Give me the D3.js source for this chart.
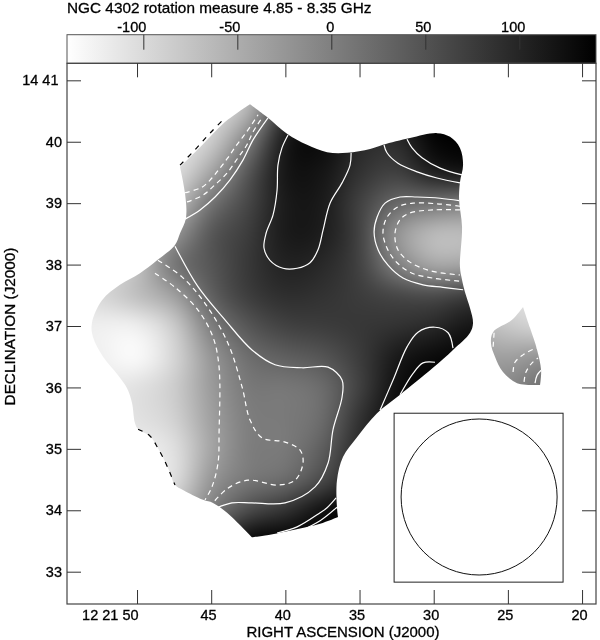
<!DOCTYPE html>
<html lang="en">
<head>
<meta charset="UTF-8"/>
<title>NGC 4302 rotation measure</title>
<script src="https://d3js.org/d3.v7.min.js"></script>
<style>
  body { margin: 0; background: #fff; }
  #wrap { position: relative; width: 600px; height: 640px; overflow: hidden; }
  canvas, svg { position: absolute; left: 0; top: 0; }
  text { font-family: "Liberation Sans", sans-serif; fill: #000; stroke: #000; stroke-width: 0.3px; }
</style>
</head>
<body>
<div id="wrap">
  <canvas id="map" width="600" height="640"></canvas>
  <svg id="chart" width="600" height="640"></svg>
</div>
<script>
// tick values and labels
const raTicks = [50, 45, 40, 35, 30, 25, 20];
const raLabels = ["12 21 50", "45", "40", "35", "30", "25", "20"];
const decTicks = [41, 40, 39, 38, 37, 36, 35, 34, 33];
const decLabels = ["14 41", "40", "39", "38", "37", "36", "35", "34", "33"];
const rmTicks = [-100, -50, 0, 50, 100];
const rmRange = [-140.6, 140.8];

const gridRa = [55, 52.5, 50, 47.5, 45, 42.5, 40, 37.5, 35, 32.5, 30, 27.5, 25, 22.5];
const gridDec = [41, 40.5, 40, 39.5, 39, 38.5, 38, 37.5, 37, 36.5, 36, 35.5, 35, 34.5, 34, 33.5, 33];
const gridRm = [
  [-113,-118,-124,-130,-118,-80,41,108,97,108,135,141,141,141],
  [-113,-118,-124,-124,-107,-58,86,124,108,113,141,141,141,141],
  [-118,-124,-130,-118,-85,3,117,130,97,91,135,141,141,141],
  [-118,-124,-124,-107,-41,47,119,119,86,69,108,119,119,119],
  [-113,-118,-107,-74,14,64,113,113,69,25,14,3,3,3],
  [-107,-107,-80,-25,47,75,113,110,69,-25,-69,-69,-69,-69],
  [-107,-107,-74,14,47,80,104,97,69,-2,-47,-41,-41,-41],
  [-113,-96,-69,-36,36,75,91,86,75,64,58,75,75,75],
  [-118,-124,-124,-85,3,47,69,75,80,86,97,119,119,119],
  [-118,-124,-137,-96,-25,20,36,47,75,113,130,135,135,135],
  [-113,-115,-107,-85,-30,8,8,20,69,124,141,141,141,141],
  [-113,-115,-107,-91,-36,3,6,20,86,130,141,141,141,141],
  [-113,-118,-122,-107,-41,3,6,36,97,124,141,141,141,141],
  [-113,-115,-118,-107,-25,8,20,58,108,130,141,141,141,141],
  [-107,-107,-107,-69,3,58,86,124,141,141,141,141,141,141],
  [-80,-80,-80,-25,64,135,141,141,141,141,141,141,141,141],
  [-47,-47,-47,30,108,141,141,141,141,141,141,141,141,141]
];
const lobeRa = [27.5, 25, 22.5];
const lobeDec = [37.5, 37, 36.5, 36, 35.5];
const lobeRm = [
  [-91,-107,-107],
  [-58,-80,-96],
  [-30,-36,-19],
  [-19,-8,20],
  [-14,3,30]
];

// edge of the mapped area [RA s, Dec arcmin]
const mainEdge = [[42.38,40.61],[42.38,40.61],[41.17,40.39],[39.89,40.13],[38.54,39.95],[37.19,39.83],[35.84,39.82],[34.29,39.88],[33.42,39.95],[31.60,40.06],[29.78,40.14],[28.90,40.08],[28.23,39.90],[28.02,39.62],[28.23,39.34],[28.29,39.05],[28.09,38.61],[28.23,37.96],[28.09,37.75],[27.89,37.55],[27.55,37.29],[27.35,37.05],[27.55,36.89],[28.70,36.61],[30.05,36.32],[32.27,35.88],[33.82,35.58],[35.17,35.19],[36.11,34.87],[36.52,34.49],[36.52,34.05],[36.45,33.89],[36.45,33.89],[37.66,33.78],[39.48,33.68],[41.57,33.58],[42.25,33.56],[42.25,33.56],[43.06,33.76],[43.93,33.96],[44.88,34.12],[45.55,34.17],[46.90,34.33],[47.44,34.41],[47.78,34.61],[48.11,34.79],[48.59,35.01],[49.13,35.21],[49.93,35.32],[50.14,35.42],[50.34,35.75],[50.68,35.99],[51.28,36.20],[52.29,36.50],[52.97,36.82],[53.04,37.05],[52.36,37.42],[51.15,37.67],[49.80,37.86],[48.65,38.07],[47.44,38.32],[47.10,38.51],[46.70,38.76],[46.77,39.17],[47.10,39.59],[47.10,39.59],[45.75,39.91],[44.07,40.32]];
const lobeEdge = [[23.98,37.31],[23.98,37.31],[24.72,37.10],[26.00,36.90],[26.14,36.72],[25.87,36.50],[25.33,36.25],[24.38,36.07],[22.83,36.04],[22.83,36.04],[22.76,36.28],[23.03,36.61],[23.51,36.97]];

// contours
const blackDashed = [
  [[47.10,39.62],[46.09,39.87],[45.08,40.14],[44.07,40.39]],
  [[49.93,35.32],[49.13,35.21],[48.59,35.01],[48.11,34.79],[47.78,34.61],[47.44,34.41]]
];
const whiteDashed = [
  [[46.77,39.17],[45.62,39.26],[44.95,39.41],[44.41,39.57],[43.87,39.74],[43.39,39.91],[42.86,40.08],[42.38,40.24],[41.84,40.44]],
  [[46.63,39.02],[45.55,39.13],[44.74,39.30],[43.93,39.49],[43.19,39.74],[42.59,39.95],[42.18,40.16],[41.57,40.39]],
  [[28.23,38.95],[29.78,38.99],[31.39,39.00],[32.41,38.94],[33.15,38.77],[33.42,38.53],[33.15,38.27],[32.47,38.03],[31.46,37.86],[30.05,37.78],[28.23,37.73]],
  [[28.23,38.89],[30.05,38.89],[31.60,38.84],[32.27,38.73],[32.61,38.51],[32.41,38.24],[31.60,38.04],[30.25,37.90],[28.23,37.83]],
  [[48.59,38.07],[46.97,37.80],[45.42,37.37],[43.87,36.72],[42.92,36.01],[42.38,35.47],[41.57,35.18],[40.02,35.11],[39.01,34.98],[38.81,34.77],[39.35,34.49],[40.50,34.41],[42.52,34.49],[43.87,34.36],[44.88,34.12]],
  [[48.79,37.86],[47.44,37.63],[45.89,37.26],[44.88,36.82],[44.47,36.33],[44.47,35.26],[44.54,34.77],[44.95,34.38],[45.42,34.17]],
  [[25.93,36.89],[26.00,36.64]],
  [[24.65,36.25],[24.52,36.41],[23.98,36.53],[23.30,36.62],[23.03,36.64]],
  [[23.91,36.09],[23.78,36.25],[23.37,36.40],[22.97,36.48]]
];
const whiteSolid = [
  [[46.77,38.74],[45.75,38.89],[44.74,39.10],[43.73,39.38],[42.86,39.70],[42.18,40.03],[41.17,40.39]],
  [[39.82,40.11],[40.23,39.90],[40.50,39.62],[40.56,39.21],[40.83,38.81],[41.30,38.51],[41.44,38.27],[41.04,38.07],[40.16,37.94],[39.21,37.94],[38.34,38.03],[37.80,38.24],[37.46,38.56],[36.99,39.00],[36.18,39.33],[35.64,39.62],[35.57,39.82]],
  [[33.35,39.95],[33.15,39.82],[32.41,39.65],[31.12,39.51],[29.78,39.41],[28.23,39.33]],
  [[31.80,40.04],[31.46,39.90],[30.79,39.74],[29.57,39.57],[28.09,39.46]],
  [[28.29,39.04],[29.57,39.08],[31.12,39.10],[32.27,39.10],[33.28,39.00],[33.82,38.77],[34.02,38.53],[33.75,38.24],[33.08,37.99],[32.07,37.78],[30.72,37.67],[29.37,37.63],[28.02,37.59]],
  [[47.44,38.30],[45.89,37.64],[44.07,37.10],[42.25,36.61],[40.70,36.37],[38.88,36.32],[37.12,36.33],[36.18,36.12],[36.18,35.84],[36.79,35.31],[37.12,34.77],[38.00,34.38],[40.02,34.12],[42.25,34.12],[43.60,34.12],[44.61,34.04]],
  [[33.62,35.63],[32.74,36.12],[31.80,36.66],[31.06,36.90],[29.91,36.98],[29.03,36.89],[28.70,36.64]],
  [[32.27,35.88],[31.39,36.23],[30.72,36.40],[29.91,36.41]],
  [[40.56,33.63],[39.21,33.73],[37.66,33.96],[37.19,34.04],[36.58,34.20]],
  [[39.01,33.66],[37.66,33.83],[36.52,34.05]],
  [[23.17,36.07],[23.03,36.20],[22.76,36.28]]
];

// beam panel
const beamBox = [32.67, 21.28, 35.58, 32.83];
const beamCentre = [26.94, 34.216];
const beamRadius = 1.27;

const frame = {left: 67, right: 596, top: 63.3, bottom: 604};
const barTop = 34.7;

const x = d3.scaleLinear().domain([54.72, 19.06]).range([frame.left, frame.right]);
const y = d3.scaleLinear().domain([41.277, 32.474]).range([frame.top, frame.bottom]);
const rmX = d3.scaleLinear().domain(rmRange).range([frame.left, frame.right]);
const grey = d3.scaleLinear().domain(rmRange).range(["#ffffff", "#000000"]).clamp(true);

const svg = d3.select("#chart");
const ctx = document.getElementById("map").getContext("2d");

function drawRaster(ras, decs, values, edge) {
  const small = document.createElement("canvas");
  small.width = ras.length;
  small.height = decs.length;
  const sctx = small.getContext("2d");
  values.forEach((row, j) => row.forEach((v, i) => {
    sctx.fillStyle = grey(v);
    sctx.fillRect(i, j, 1, 1);
  }));
  const dx = x(ras[1]) - x(ras[0]);
  const dy = y(decs[1]) - y(decs[0]);
  ctx.save();
  const outline = d3.line().x(d => x(d[0])).y(d => y(d[1])).curve(d3.curveCatmullRomClosed.alpha(0.5));
  ctx.clip(new Path2D(outline(edge)));
  ctx.imageSmoothingEnabled = true;
  ctx.imageSmoothingQuality = "high";
  ctx.drawImage(small, x(ras[0]) - dx / 2, y(decs[0]) - dy / 2, dx * ras.length, dy * decs.length);
  ctx.restore();
}
drawRaster(gridRa, gridDec, gridRm, mainEdge);
drawRaster(lobeRa, lobeDec, lobeRm, lobeEdge);

// contours
const contour = d3.line().x(d => x(d[0])).y(d => y(d[1])).curve(d3.curveCatmullRom.alpha(0.5));
const addLines = (lines, colour, dash, w) => svg.append("g")
  .selectAll("path").data(lines).join("path")
  .attr("d", contour)
  .attr("fill", "none")
  .attr("stroke", colour)
  .attr("stroke-width", w)
  .attr("stroke-dasharray", dash);
addLines(whiteSolid, "#fff", null, 1.2);
addLines(whiteDashed, "#fff", "5,4", 1.2);
addLines(blackDashed, "#000", "5,6", 1.2);

// beam
svg.append("rect")
  .attr("x", x(beamBox[0])).attr("y", y(beamBox[2]))
  .attr("width", x(beamBox[1]) - x(beamBox[0]))
  .attr("height", y(beamBox[3]) - y(beamBox[2]))
  .attr("fill", "#fff").attr("stroke", "#222").attr("stroke-width", 1);
svg.append("ellipse")
  .attr("cx", x(beamCentre[0])).attr("cy", y(beamCentre[1]))
  .attr("rx", y(beamCentre[1] - beamRadius) - y(beamCentre[1]))
  .attr("ry", y(beamCentre[1] - beamRadius) - y(beamCentre[1]))
  .attr("fill", "none").attr("stroke", "#111").attr("stroke-width", 1);

// colour bar
const grad = svg.append("defs").append("linearGradient").attr("id", "bar");
grad.append("stop").attr("offset", 0).attr("stop-color", grey(rmRange[0]));
grad.append("stop").attr("offset", 1).attr("stop-color", grey(rmRange[1]));
svg.append("rect")
  .attr("x", frame.left).attr("y", barTop)
  .attr("width", frame.right - frame.left).attr("height", frame.top - barTop)
  .attr("fill", "url(#bar)").attr("stroke", "#555").attr("stroke-width", 1);

// axes
function styleAxis(g) {
  g.select(".domain").remove();
  g.selectAll("line").attr("stroke", "#333").attr("stroke-width", 1);
  g.selectAll("text").attr("font-size", 14.5).attr("fill", "#000")
    .attr("font-family", '"Liberation Sans", sans-serif');
}
svg.append("g").attr("transform", `translate(0,${barTop})`)
  .call(d3.axisTop(rmX).tickValues(rmTicks).tickSize(-15).tickSizeOuter(0).tickPadding(3)
    .tickFormat(d => String(d)))
  .call(styleAxis)
  .selectAll("text").attr("text-anchor", "end").attr("dx", d => d <= 0 ? 2.5 : 5.5);

svg.append("rect")
  .attr("x", frame.left).attr("y", frame.top)
  .attr("width", frame.right - frame.left).attr("height", frame.bottom - frame.top)
  .attr("fill", "none").attr("stroke", "#444").attr("stroke-width", 1.2);

svg.append("g").attr("transform", `translate(0,${frame.top})`)
  .call(d3.axisTop(x).tickValues(raTicks).tickSize(-14).tickSizeOuter(0).tickFormat(""))
  .call(styleAxis);
svg.append("g").attr("transform", `translate(0,${frame.bottom})`)
  .call(d3.axisBottom(x).tickValues(raTicks).tickSize(-14).tickSizeOuter(0).tickPadding(6)
    .tickFormat((d, i) => raLabels[i]))
  .call(styleAxis)
  .selectAll("text").attr("text-anchor", "end").attr("dx", (d, i) => i === 0 ? 1 : 5);
svg.append("g").attr("transform", `translate(${frame.left},0)`)
  .call(d3.axisLeft(y).tickValues(decTicks).tickSize(-14).tickSizeOuter(0).tickPadding(5)
    .tickFormat((d, i) => decLabels[i]))
  .call(styleAxis)
  .selectAll("text").attr("dx", (d, i) => i === 0 ? -3.5 : 0);
svg.append("g").attr("transform", `translate(${frame.right},0)`)
  .call(d3.axisRight(y).tickValues(decTicks).tickSize(-14).tickSizeOuter(0).tickFormat(""))
  .call(styleAxis);

// titles
svg.append("text").attr("x", frame.left).attr("y", 13.3).attr("font-size", 15.35)
  .text("NGC 4302 rotation measure 4.85 - 8.35 GHz");
svg.append("text").attr("x", 343).attr("y", 637).attr("text-anchor", "middle").attr("font-size", 15)
  .text("RIGHT ASCENSION (J2000)");
svg.append("text").attr("transform", "translate(15,326.5) rotate(-90)").attr("text-anchor", "middle").attr("font-size", 15.3)
  .text("DECLINATION (J2000)");
</script>
</body>
</html>
